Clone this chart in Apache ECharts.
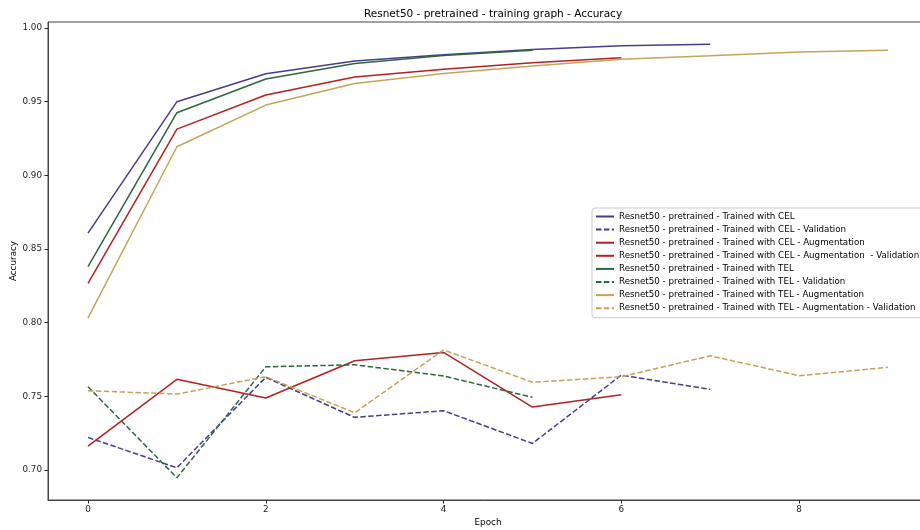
<!DOCTYPE html>
<html>
<head>
<meta charset="utf-8">
<style>
  html, body { margin: 0; padding: 0; background: #fff; }
  #chart { width: 920px; height: 530px; }
</style>
<script src="https://cdn.jsdelivr.net/npm/echarts@6/dist/echarts.min.js"></script>
</head>
<body>
<div id="chart"></div>
<script>
// Accuracy per epoch for each training run
const celTrain    = [0.8608, 0.9500, 0.9690, 0.9777, 0.9818, 0.9855, 0.9880, 0.9890];
const celVal      = [0.7221, 0.7015, 0.7629, 0.7357, 0.7402, 0.7180, 0.7644, 0.7547];
const celAugTrain = [0.8267, 0.9314, 0.9545, 0.9668, 0.9720, 0.9765, 0.9798];
const celAugVal   = [0.7162, 0.7615, 0.7488, 0.7741, 0.7798, 0.7427, 0.7510];
const telTrain    = [0.8380, 0.9425, 0.9654, 0.9760, 0.9813, 0.9849];
const telVal      = [0.7565, 0.6947, 0.7700, 0.7714, 0.7638, 0.7493];
const telAugTrain = [0.8033, 0.9194, 0.9477, 0.9624, 0.9692, 0.9742, 0.9788, 0.9812, 0.9837, 0.9849];
const telAugVal   = [0.7538, 0.7515, 0.7633, 0.7388, 0.7815, 0.7595, 0.7633, 0.7775, 0.7640, 0.7697];

const seriesNames = [
  'Resnet50 - pretrained - Trained with CEL',
  'Resnet50 - pretrained - Trained with CEL - Validation',
  'Resnet50 - pretrained - Trained with CEL - Augmentation',
  'Resnet50 - pretrained - Trained with CEL - Augmentation  - Validation',
  'Resnet50 - pretrained - Trained with TEL',
  'Resnet50 - pretrained - Trained with TEL - Validation',
  'Resnet50 - pretrained - Trained with TEL - Augmentation',
  'Resnet50 - pretrained - Trained with TEL - Augmentation - Validation'
];
const seriesData = [celTrain, celVal, celAugTrain, celAugVal, telTrain, telVal, telAugTrain, telAugVal];
const seriesColors = ['#483d8b', '#483d8b', '#b22222', '#b22222', '#2e6640', '#2e6640', '#c3a55a', '#c3a55a'];
const seriesDashed = [false, true, false, false, false, true, false, true];

const yTicks = [0.70, 0.75, 0.80, 0.85, 0.90, 0.95, 1.00];
const xTicks = [0, 2, 4, 6, 8];

const FONT = 'DejaVu Sans';
const INK = '#262626';
const TXT = 8.8;

const chart = echarts.init(document.getElementById('chart'), null, { renderer: 'canvas' });

const series = seriesData.map((vals, i) => ({
  name: seriesNames[i],
  type: 'line',
  data: vals.map((v, k) => [k, v]),
  symbol: 'none',
  showSymbol: false,
  animation: false,
  color: seriesColors[i],
  lineStyle: {
    color: seriesColors[i],
    width: 1.5,
    type: seriesDashed[i] ? [5.5, 2.4] : 'solid'
  }
}));

chart.setOption({
  backgroundColor: '#fff',
  animation: false,
  textStyle: { fontFamily: FONT },
  title: {
    text: 'Resnet50 - pretrained - training graph - Accuracy',
    left: 488,
    top: 4,
    textAlign: 'center',
    textStyle: { fontFamily: FONT, fontSize: 10.5, fontWeight: 'normal', color: '#000' }
  },
  grid: {
    left: 48, right: -8, top: 22, bottom: 30,
    containLabel: false,
    outerBoundsMode: 'none',
    show: true, borderColor: '#444', borderWidth: 1, backgroundColor: 'transparent'
  },
  legend: {
    orient: 'vertical',
    left: 592, top: 208,
    padding: [4, 6, 5, 3],
    itemGap: 4.1,
    itemWidth: 18, itemHeight: 9,
    backgroundColor: '#fff',
    borderColor: '#cccccc', borderWidth: 1, borderRadius: 3,
    itemStyle: { opacity: 0 },
    textStyle: { fontFamily: FONT, fontSize: 8.7, color: '#000', padding: [0, 0, 0, 0] },
    data: seriesNames
  },
  xAxis: {
    type: 'value',
    min: -0.45, max: 9.45,
    name: 'Epoch',
    nameLocation: 'middle',
    nameGap: 18,
    nameMoveOverlap: false,
    nameTextStyle: { fontFamily: FONT, fontSize: TXT, color: '#000' },
    axisLine: { show: true, onZero: false, lineStyle: { color: '#444', width: 1 } },
    axisTick: { show: true, length: 3.5, lineStyle: { color: INK }, customValues: xTicks },
    axisLabel: { fontFamily: FONT, fontSize: TXT, color: INK, margin: 5, customValues: xTicks },
    splitLine: { show: false }
  },
  yAxis: {
    type: 'value',
    min: 0.6796, max: 1.0041,
    name: 'Accuracy',
    nameLocation: 'middle',
    nameGap: 30,
    nameMoveOverlap: false,
    nameTextStyle: { fontFamily: FONT, fontSize: TXT, color: '#000' },
    axisLine: { show: true, onZero: false, lineStyle: { color: '#444', width: 1 } },
    axisTick: { show: true, length: 3.5, lineStyle: { color: INK }, customValues: yTicks },
    axisLabel: {
      fontFamily: FONT, fontSize: TXT, color: INK, margin: 6,
      customValues: yTicks,
      formatter: v => v.toFixed(2)
    },
    splitLine: { show: false }
  },
  series: series
});
</script>
</body>
</html>
